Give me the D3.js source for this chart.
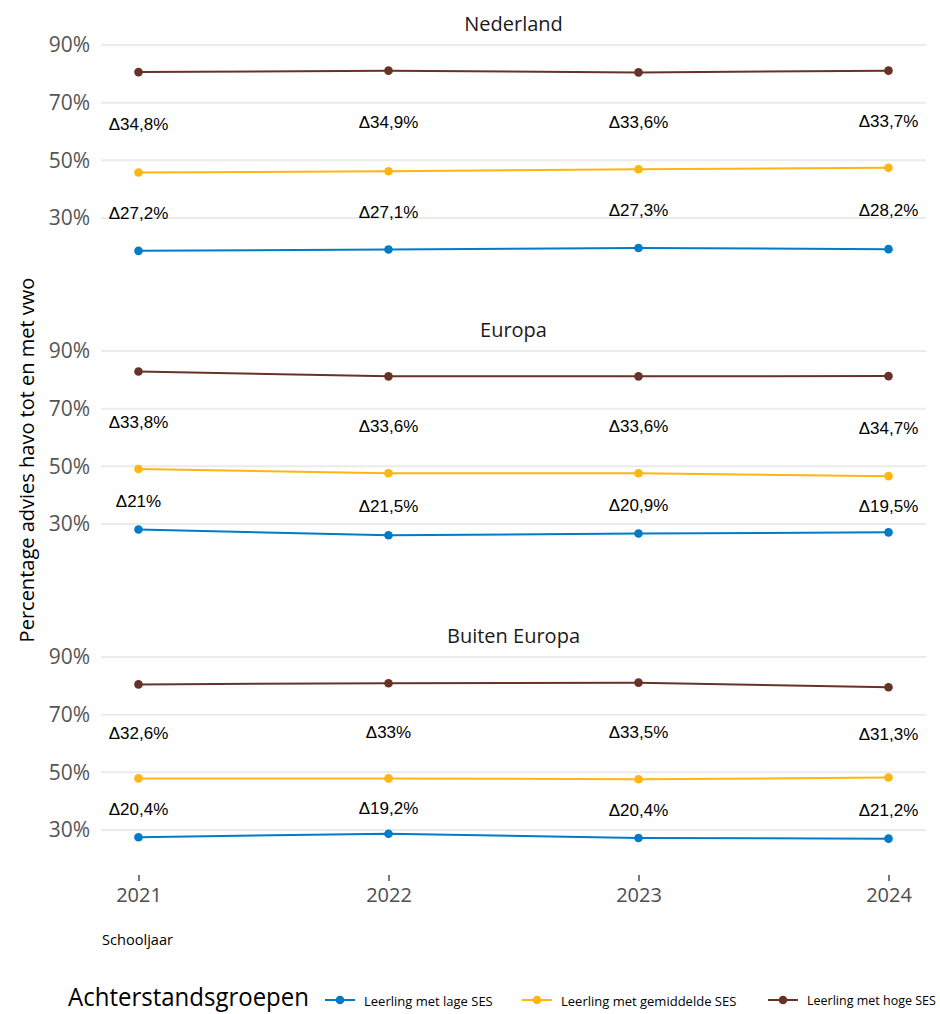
<!DOCTYPE html>
<html>
<head>
<meta charset="utf-8">
<script src="https://cdn.jsdelivr.net/npm/d3@7"></script>
<style>
  html, body { margin: 0; padding: 0; background: #fff; }
  svg { display: block; }
</style>
</head>
<body>
<svg id="chart" width="940" height="1014"></svg>
<script>
// ---- data ----
const years = [2021, 2022, 2023, 2024];
const regions = ["Nederland", "Europa", "Buiten Europa"];
const groups = ["Leerling met lage SES", "Leerling met gemiddelde SES", "Leerling met hoge SES"];
const groupColors = ["#007bc7", "#ffb612", "#673327"];
const yTicks = [30, 50, 70, 90];

const nederlandLaag = [18.6, 19.1, 19.6, 19.2];
const nederlandGemiddeld = [45.8, 46.2, 46.9, 47.4];
const nederlandHoog = [80.6, 81.1, 80.5, 81.1];
const europaLaag = [28.1, 26.1, 26.7, 27.1];
const europaGemiddeld = [49.1, 47.6, 47.6, 46.6];
const europaHoog = [82.9, 81.2, 81.2, 81.3];
const buitenLaag = [27.5, 28.7, 27.2, 27.0];
const buitenGemiddeld = [47.9, 47.9, 47.6, 48.2];
const buitenHoog = [80.5, 80.9, 81.1, 79.5];

// labelled gaps (hoog - gemiddeld, gemiddeld - laag)
const nederlandGapHoog = ["34,8", "34,9", "33,6", "33,7"];
const nederlandGapLaag = ["27,2", "27,1", "27,3", "28,2"];
const europaGapHoog = ["33,8", "33,6", "33,6", "34,7"];
const europaGapLaag = ["21", "21,5", "20,9", "19,5"];
const buitenGapHoog = ["32,6", "33", "33,5", "31,3"];
const buitenGapLaag = ["20,4", "19,2", "20,4", "21,2"];

const panels = [
  { name: regions[0], series: [nederlandLaag, nederlandGemiddeld, nederlandHoog], gapHoog: nederlandGapHoog, gapLaag: nederlandGapLaag },
  { name: regions[1], series: [europaLaag, europaGemiddeld, europaHoog], gapHoog: europaGapHoog, gapLaag: europaGapLaag },
  { name: regions[2], series: [buitenLaag, buitenGemiddeld, buitenHoog], gapHoog: buitenGapHoog, gapLaag: buitenGapLaag }
];

// ---- layout ----
const svg = d3.select("#chart");
const plotLeft = 101, plotRight = 926;
const panelStep = 306;
const sansUI = "'Open Sans', 'Noto Sans', sans-serif";
const sansLabel = "'Liberation Sans', Arial, sans-serif";

const x = d3.scaleLinear()
  .domain([years[0] - 0.15, years[years.length - 1] + 0.15])
  .range([plotLeft, plotRight]);

panels.forEach((p, i) => {
  const off = i * panelStep;
  const y = d3.scaleLinear().domain([30, 90]).range([218 + off, 45 + off]);
  const g = svg.append("g");

  // gridlines
  g.selectAll("line.grid").data(yTicks).join("line")
    .attr("x1", plotLeft).attr("x2", plotRight)
    .attr("y1", d => y(d)).attr("y2", d => y(d))
    .attr("stroke", "#ebebeb").attr("stroke-width", 2);

  // y axis labels
  const ya = g.append("g").attr("transform", `translate(${plotLeft - 2},0)`)
    .call(d3.axisLeft(y).tickValues(yTicks).tickSize(0).tickPadding(9).tickFormat(d => d + "%"));
  ya.select(".domain").remove();
  ya.selectAll("text").attr("font-family", sansUI).attr("font-size", 21).attr("fill", "#555");

  // facet title
  g.append("text").attr("x", (plotLeft + plotRight) / 2).attr("y", 24 + off)
    .attr("text-anchor", "middle").attr("dy", "0.35em")
    .attr("font-family", sansUI).attr("font-size", 20).attr("fill", "#1a1a1a")
    .text(p.name);

  // lines + points
  const line = d3.line().x((d, k) => x(years[k])).y(d => y(d));
  p.series.forEach((vals, s) => {
    g.append("path").attr("d", line(vals))
      .attr("fill", "none").attr("stroke", groupColors[s]).attr("stroke-width", 2);
    g.selectAll(null).data(vals).join("circle")
      .attr("cx", (d, k) => x(years[k])).attr("cy", d => y(d)).attr("r", 4.3)
      .attr("fill", groupColors[s]);
  });

  // gap labels
  const [laag, gem, hoog] = p.series;
  g.selectAll(null).data(p.gapHoog).join("text")
    .attr("x", (d, k) => x(years[k])).attr("y", (d, k) => (y(hoog[k]) + y(gem[k])) / 2 + 1.5)
    .attr("text-anchor", "middle").attr("dy", "0.35em")
    .attr("font-family", sansLabel).attr("font-size", 17).attr("fill", "#000")
    .text(d => "Δ" + d + "%");
  g.selectAll(null).data(p.gapLaag).join("text")
    .attr("x", (d, k) => x(years[k])).attr("y", (d, k) => (y(gem[k]) + y(laag[k])) / 2 + 1.5)
    .attr("text-anchor", "middle").attr("dy", "0.35em")
    .attr("font-family", sansLabel).attr("font-size", 17).attr("fill", "#000")
    .text(d => "Δ" + d + "%");
});

// x axis
const xa = svg.append("g").attr("transform", "translate(0,875)")
  .call(d3.axisBottom(x).tickValues(years).tickSize(6).tickPadding(7).tickFormat(d3.format("d")));
xa.select(".domain").remove();
xa.selectAll("line").attr("stroke", "#333").attr("stroke-width", 1.3);
xa.selectAll("text").attr("font-family", sansUI).attr("font-size", 20).attr("fill", "#4d4d4d");

// axis titles
svg.append("text").attr("transform", "translate(27,460) rotate(-90)")
  .attr("text-anchor", "middle").attr("dy", "0.35em")
  .attr("font-family", sansUI).attr("font-size", 20).attr("fill", "#000")
  .text("Percentage advies havo tot en met vwo");
svg.append("text").attr("x", 102).attr("y", 940).attr("dy", "0.35em")
  .attr("font-family", sansUI).attr("font-size", 14).attr("fill", "#000")
  .attr("textLength", 71).attr("lengthAdjust", "spacingAndGlyphs")
  .text("Schooljaar");

// legend
svg.append("text").attr("x", 68).attr("y", 997).attr("dy", "0.35em")
  .attr("font-family", sansUI).attr("font-size", 25).attr("fill", "#000")
  .attr("textLength", 241).attr("lengthAdjust", "spacingAndGlyphs")
  .text("Achterstandsgroepen");
const legendKeyX = [325, 522, 768];
groups.forEach((name, s) => {
  const lx = legendKeyX[s];
  svg.append("line").attr("x1", lx).attr("x2", lx + 30).attr("y1", 1000).attr("y2", 1000)
    .attr("stroke", groupColors[s]).attr("stroke-width", 2);
  svg.append("circle").attr("cx", lx + 15).attr("cy", 1000).attr("r", 4.3).attr("fill", groupColors[s]);
  const t = svg.append("text").attr("x", lx + 39).attr("y", 1001).attr("dy", "0.35em")
    .attr("font-family", sansUI).attr("font-size", 13).attr("fill", "#000")
    .text(name);
  // keep the label within the picture
  const w = t.node().getComputedTextLength();
  const room = 936 - (lx + 39);
  if (w > room) t.attr("font-size", 13 * room / w);
});
</script>
</body>
</html>
